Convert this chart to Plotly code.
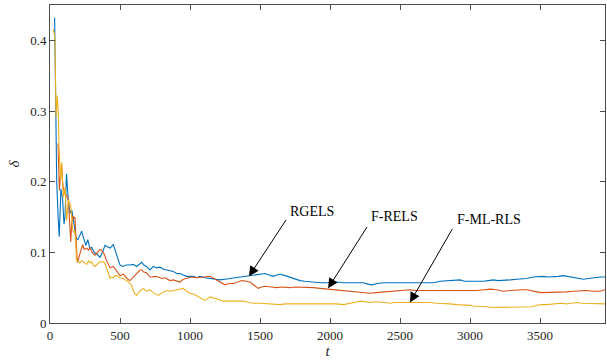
import plotly.graph_objects as go

# ---- data ----
t_rgels = [33, 40, 48, 58, 66, 78, 90, 100, 107, 118, 130, 143, 155, 168, 186, 200, 215, 226, 240, 257, 270, 285, 298, 315, 333, 357, 375, 393, 410, 429, 452, 476, 500, 520, 545, 571, 595, 619, 640, 655, 670, 690, 714, 738, 760, 786, 810, 833, 857, 881, 905, 929, 952, 976, 1000, 1024, 1050, 1071, 1107, 1143, 1180, 1214, 1250, 1286, 1320, 1357, 1395, 1429, 1480, 1536, 1565, 1595, 1620, 1643, 1680, 1714, 1750, 1786, 1820, 1857, 1890, 1929, 1986, 2048, 2095, 2143, 2190, 2238, 2270, 2298, 2340, 2381, 2430, 2476, 2520, 2571, 2620, 2667, 2710, 2738, 2786, 2833, 2881, 2929, 2960, 3000, 3050, 3095, 3130, 3167, 3200, 3238, 3290, 3333, 3370, 3405, 3452, 3490, 3524, 3560, 3595, 3630, 3667, 3700, 3738, 3775, 3810, 3845, 3881, 3930, 3979]
d_rgels = [0.432, 0.30, 0.20, 0.15, 0.122, 0.19, 0.175, 0.14, 0.15, 0.211, 0.175, 0.155, 0.16, 0.145, 0.12, 0.118, 0.125, 0.13, 0.12, 0.11, 0.118, 0.105, 0.107, 0.10, 0.098, 0.093, 0.10, 0.11, 0.108, 0.106, 0.111, 0.096, 0.082, 0.080, 0.082, 0.082, 0.083, 0.080, 0.084, 0.086, 0.082, 0.080, 0.075, 0.080, 0.078, 0.079, 0.076, 0.075, 0.074, 0.073, 0.070, 0.070, 0.068, 0.066, 0.066, 0.066, 0.064, 0.066, 0.064, 0.063, 0.061, 0.061, 0.062, 0.063, 0.064, 0.065, 0.066, 0.0665, 0.068, 0.070, 0.068, 0.066, 0.068, 0.069, 0.067, 0.065, 0.062, 0.060, 0.059, 0.058, 0.057, 0.057, 0.057, 0.058, 0.057, 0.057, 0.057, 0.057, 0.055, 0.054, 0.056, 0.057, 0.057, 0.057, 0.056, 0.056, 0.056, 0.056, 0.056, 0.057, 0.059, 0.060, 0.060, 0.061, 0.059, 0.059, 0.058, 0.059, 0.060, 0.061, 0.060, 0.060, 0.061, 0.062, 0.062, 0.063, 0.065, 0.066, 0.066, 0.065, 0.065, 0.066, 0.067, 0.066, 0.064, 0.063, 0.062, 0.063, 0.064, 0.065, 0.065]

t_frels = [57, 62, 67, 75, 83, 90, 95, 107, 120, 131, 140, 148, 155, 162, 170, 178, 186, 195, 205, 214, 225, 233, 245, 262, 275, 286, 300, 321, 340, 357, 369, 386, 400, 417, 429, 452, 464, 488, 500, 524, 550, 571, 595, 619, 643, 655, 670, 690, 714, 726, 750, 774, 800, 821, 857, 880, 905, 929, 952, 976, 1000, 1012, 1040, 1071, 1100, 1143, 1170, 1190, 1220, 1250, 1280, 1310, 1340, 1369, 1400, 1429, 1460, 1488, 1510, 1536, 1580, 1619, 1660, 1714, 1750, 1786, 1830, 1881, 1930, 1976, 2048, 2095, 2140, 2190, 2240, 2286, 2330, 2381, 2430, 2476, 2520, 2571, 2610, 2643, 2680, 2714, 2760, 2810, 2860, 2905, 2950, 3000, 3050, 3100, 3143, 3190, 3238, 3290, 3333, 3370, 3405, 3440, 3476, 3510, 3548, 3600, 3643, 3690, 3738, 3785, 3833, 3880, 3929, 3979]
d_frels = [0.254, 0.20, 0.188, 0.21, 0.225, 0.20, 0.19, 0.183, 0.18, 0.174, 0.14, 0.115, 0.14, 0.152, 0.148, 0.150, 0.12, 0.086, 0.092, 0.098, 0.105, 0.111, 0.104, 0.106, 0.103, 0.107, 0.100, 0.096, 0.100, 0.104, 0.103, 0.098, 0.090, 0.082, 0.078, 0.080, 0.077, 0.070, 0.067, 0.069, 0.063, 0.060, 0.065, 0.070, 0.075, 0.075, 0.072, 0.071, 0.065, 0.065, 0.066, 0.065, 0.063, 0.064, 0.060, 0.061, 0.060, 0.058, 0.062, 0.063, 0.064, 0.065, 0.064, 0.064, 0.065, 0.066, 0.063, 0.060, 0.057, 0.054, 0.056, 0.056, 0.058, 0.060, 0.059, 0.058, 0.053, 0.049, 0.051, 0.052, 0.051, 0.050, 0.051, 0.050, 0.051, 0.051, 0.050, 0.050, 0.049, 0.048, 0.047, 0.046, 0.045, 0.044, 0.043, 0.042, 0.043, 0.044, 0.045, 0.046, 0.047, 0.047, 0.046, 0.046, 0.046, 0.045, 0.045, 0.046, 0.046, 0.046, 0.045, 0.046, 0.046, 0.047, 0.048, 0.047, 0.045, 0.046, 0.047, 0.047, 0.047, 0.045, 0.044, 0.043, 0.043, 0.044, 0.044, 0.044, 0.045, 0.046, 0.046, 0.045, 0.045, 0.048]

t_fmlrls = [22, 30, 36, 43, 52, 60, 64, 67, 72, 76, 83, 90, 95, 107, 113, 119, 125, 131, 140, 148, 155, 162, 170, 178, 184, 190, 200, 214, 226, 238, 250, 262, 275, 286, 298, 310, 321, 340, 357, 370, 381, 395, 405, 420, 429, 440, 452, 464, 476, 500, 524, 536, 555, 571, 585, 595, 607, 619, 640, 655, 667, 690, 714, 738, 760, 774, 800, 833, 860, 881, 905, 930, 952, 976, 1000, 1024, 1050, 1071, 1107, 1143, 1165, 1190, 1210, 1238, 1270, 1310, 1345, 1381, 1420, 1452, 1500, 1548, 1600, 1643, 1680, 1714, 1750, 1786, 1830, 1881, 1930, 1976, 2048, 2095, 2130, 2167, 2200, 2226, 2260, 2286, 2320, 2357, 2390, 2429, 2460, 2500, 2540, 2571, 2620, 2667, 2710, 2762, 2810, 2857, 2905, 2952, 3000, 3024, 3070, 3119, 3170, 3214, 3260, 3310, 3360, 3405, 3440, 3476, 3510, 3548, 3585, 3619, 3650, 3690, 3725, 3762, 3800, 3833, 3870, 3905, 3940, 3979]
d_fmlrls = [0.416, 0.41, 0.40, 0.291, 0.322, 0.294, 0.25, 0.23, 0.215, 0.202, 0.227, 0.19, 0.178, 0.192, 0.17, 0.145, 0.16, 0.174, 0.17, 0.166, 0.15, 0.132, 0.128, 0.130, 0.11, 0.089, 0.088, 0.085, 0.088, 0.087, 0.084, 0.083, 0.088, 0.085, 0.087, 0.082, 0.080, 0.083, 0.087, 0.086, 0.087, 0.083, 0.076, 0.068, 0.063, 0.065, 0.064, 0.067, 0.067, 0.064, 0.063, 0.061, 0.059, 0.056, 0.052, 0.046, 0.041, 0.039, 0.045, 0.047, 0.049, 0.045, 0.047, 0.043, 0.041, 0.039, 0.043, 0.046, 0.045, 0.046, 0.047, 0.048, 0.049, 0.045, 0.042, 0.041, 0.038, 0.036, 0.032, 0.037, 0.036, 0.035, 0.033, 0.031, 0.031, 0.030, 0.031, 0.031, 0.029, 0.028, 0.028, 0.027, 0.026, 0.026, 0.027, 0.027, 0.028, 0.028, 0.027, 0.027, 0.027, 0.027, 0.027, 0.026, 0.027, 0.028, 0.030, 0.031, 0.030, 0.029, 0.030, 0.030, 0.029, 0.028, 0.029, 0.029, 0.029, 0.029, 0.030, 0.030, 0.029, 0.028, 0.028, 0.027, 0.026, 0.026, 0.025, 0.024, 0.024, 0.023, 0.022, 0.022, 0.022, 0.022, 0.022, 0.022, 0.023, 0.025, 0.026, 0.026, 0.027, 0.028, 0.028, 0.027, 0.028, 0.029, 0.028, 0.028, 0.028, 0.028, 0.028, 0.027]

x_ticks = [0, 500, 1000, 1500, 2000, 2500, 3000, 3500]
y_ticks = [0, 0.1, 0.2, 0.3, 0.4]
y_tick_text = ["0", "0.1", "0.2", "0.3", "0.4"]

# annotation labels: (text, text position, arrow tail, arrow head) in data units
labels = ["RGELS", "F-RELS", "F-ML-RLS"]
label_xy = [(1871, 0.158), (2464, 0.151), (3136, 0.147)]
tail_xy = [(1693, 0.148), (2271, 0.138), (2879, 0.135)]
head_xy = [(1421, 0.066), (1986, 0.049), (2571, 0.029)]

COL = ["#0072BD", "#D95319", "#EDB120"]
FONT = "Liberation Serif"

fig = go.Figure()
for tt, dd, c, n in [(t_rgels, d_rgels, COL[0], "RGELS"),
                     (t_frels, d_frels, COL[1], "F-RELS"),
                     (t_fmlrls, d_fmlrls, COL[2], "F-ML-RLS")]:
    fig.add_trace(go.Scatter(x=tt, y=dd, mode="lines", name=n,
                             line=dict(color=c, width=1.1)))

for lab, (lx, ly), (ax_, ay_), (hx, hy) in zip(labels, label_xy, tail_xy, head_xy):
    fig.add_annotation(x=lx, y=ly, text=lab, showarrow=False,
                       font=dict(family=FONT, size=14, color="#000000"))
    fig.add_annotation(x=hx, y=hy, ax=ax_, ay=ay_, axref="x", ayref="y",
                       text="", showarrow=True, arrowhead=2, arrowsize=2,
                       arrowwidth=1, arrowcolor="#000000")

axis_common = dict(showline=True, linecolor="#4d4d4d", linewidth=1,
                   ticks="inside", ticklen=5, tickcolor="#4d4d4d",
                   mirror="ticks", showgrid=False, zeroline=False,
                   automargin=False,
                   tickfont=dict(family=FONT, size=13, color="#262626"))

fig.update_xaxes(range=[0, 3964], tickvals=x_ticks,
                 title=dict(text="<i>t</i>", font=dict(family=FONT, size=15, color="#262626"), standoff=0),
                 **axis_common)
fig.update_yaxes(range=[0, 0.45], tickvals=y_ticks, ticktext=y_tick_text,
                 title=dict(text="<i>δ</i>", font=dict(family=FONT, size=15, color="#262626"), standoff=6),
                 **axis_common)

fig.update_layout(width=607, height=362, showlegend=False,
                  margin=dict(l=50, r=2, t=5, b=39),
                  plot_bgcolor="white", paper_bgcolor="white")

fig.write_html("out.html", config={"displayModeBar": False},
               post_script="document.body.style.margin='0';document.body.style.overflow='hidden';")
